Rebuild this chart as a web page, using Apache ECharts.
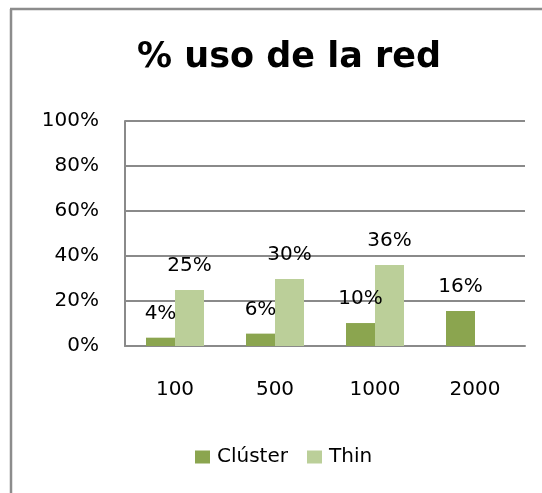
<!DOCTYPE html>
<html>
<head>
<meta charset="utf-8">
<script src="https://cdn.jsdelivr.net/npm/echarts@6/dist/echarts.min.js"></script>
<style>
html,body{margin:0;padding:0;background:#fff;}
#c{width:542px;height:493px;}
</style>
</head>
<body>
<div id="c"></div>
<script>
const titleText = '% uso de la red';
const categories = ['100', '500', '1000', '2000'];
const seriesNames = ['Clúster', 'Thin'];
const clusterValues = [0.037, 0.055, 0.102, 0.156];
const thinValues = [0.249, 0.298, 0.36, null];
const yTicks = [0, 0.2, 0.4, 0.6, 0.8, 1];

const FONT = 'DejaVu Sans';
const chart = echarts.init(document.getElementById('c'), null, {renderer: 'canvas'});
const pct = v => Math.round(v * 100) + '%';
const labelCfg = {
  show: true, position: 'top', distance: 14,
  fontFamily: FONT, fontSize: 20, color: '#000',
  formatter: p => (p.value == null ? '' : pct(p.value))
};
chart.setOption({
  animation: false,
  backgroundColor: '#fff',
  title: {
    text: titleText, left: 137, top: 40, padding: 0,
    textStyle: {fontFamily: FONT, fontSize: 35, fontWeight: 'bold', color: '#000'}
  },
  legend: {
    data: seriesNames, left: 195, top: 447, padding: 0,
    icon: 'rect', itemWidth: 15, itemHeight: 13, itemGap: 19,
    textStyle: {fontFamily: FONT, fontSize: 20, color: '#000', padding: [0, 0, 0, 2]}
  },
  grid: {left: 125, top: 121, width: 400, height: 225, containLabel: false},
  xAxis: {
    type: 'category', data: categories,
    axisLine: {show: true, lineStyle: {color: '#8a8a8a', width: 2}},
    axisTick: {show: false},
    axisLabel: {fontFamily: FONT, fontSize: 20, color: '#000', margin: 34}
  },
  yAxis: {
    type: 'value', min: yTicks[0], max: yTicks[yTicks.length - 1], interval: yTicks[1] - yTicks[0],
    axisLine: {show: true, lineStyle: {color: '#8a8a8a', width: 2}},
    axisTick: {show: false},
    splitLine: {show: true, lineStyle: {color: '#8a8a8a', width: 2}},
    axisLabel: {fontFamily: FONT, fontSize: 20, color: '#000', margin: 26, formatter: v => pct(v)}
  },
  series: [
    {name: seriesNames[0], type: 'bar', data: clusterValues, barWidth: 29, barGap: '0%',
     itemStyle: {color: '#8BA54F'}, label: labelCfg},
    {name: seriesNames[1], type: 'bar', data: thinValues, barWidth: 29, barGap: '0%',
     itemStyle: {color: '#BBCF99'}, label: labelCfg}
  ],
  graphic: [
    {type: 'line', shape: {x1: 11, y1: 9, x2: 11, y2: 493}, style: {stroke: '#8c8c8c', lineWidth: 2.5}, silent: true},
    {type: 'line', shape: {x1: 10, y1: 9, x2: 542, y2: 9}, style: {stroke: '#8c8c8c', lineWidth: 2.5}, silent: true}
  ]
});
</script>
</body>
</html>
